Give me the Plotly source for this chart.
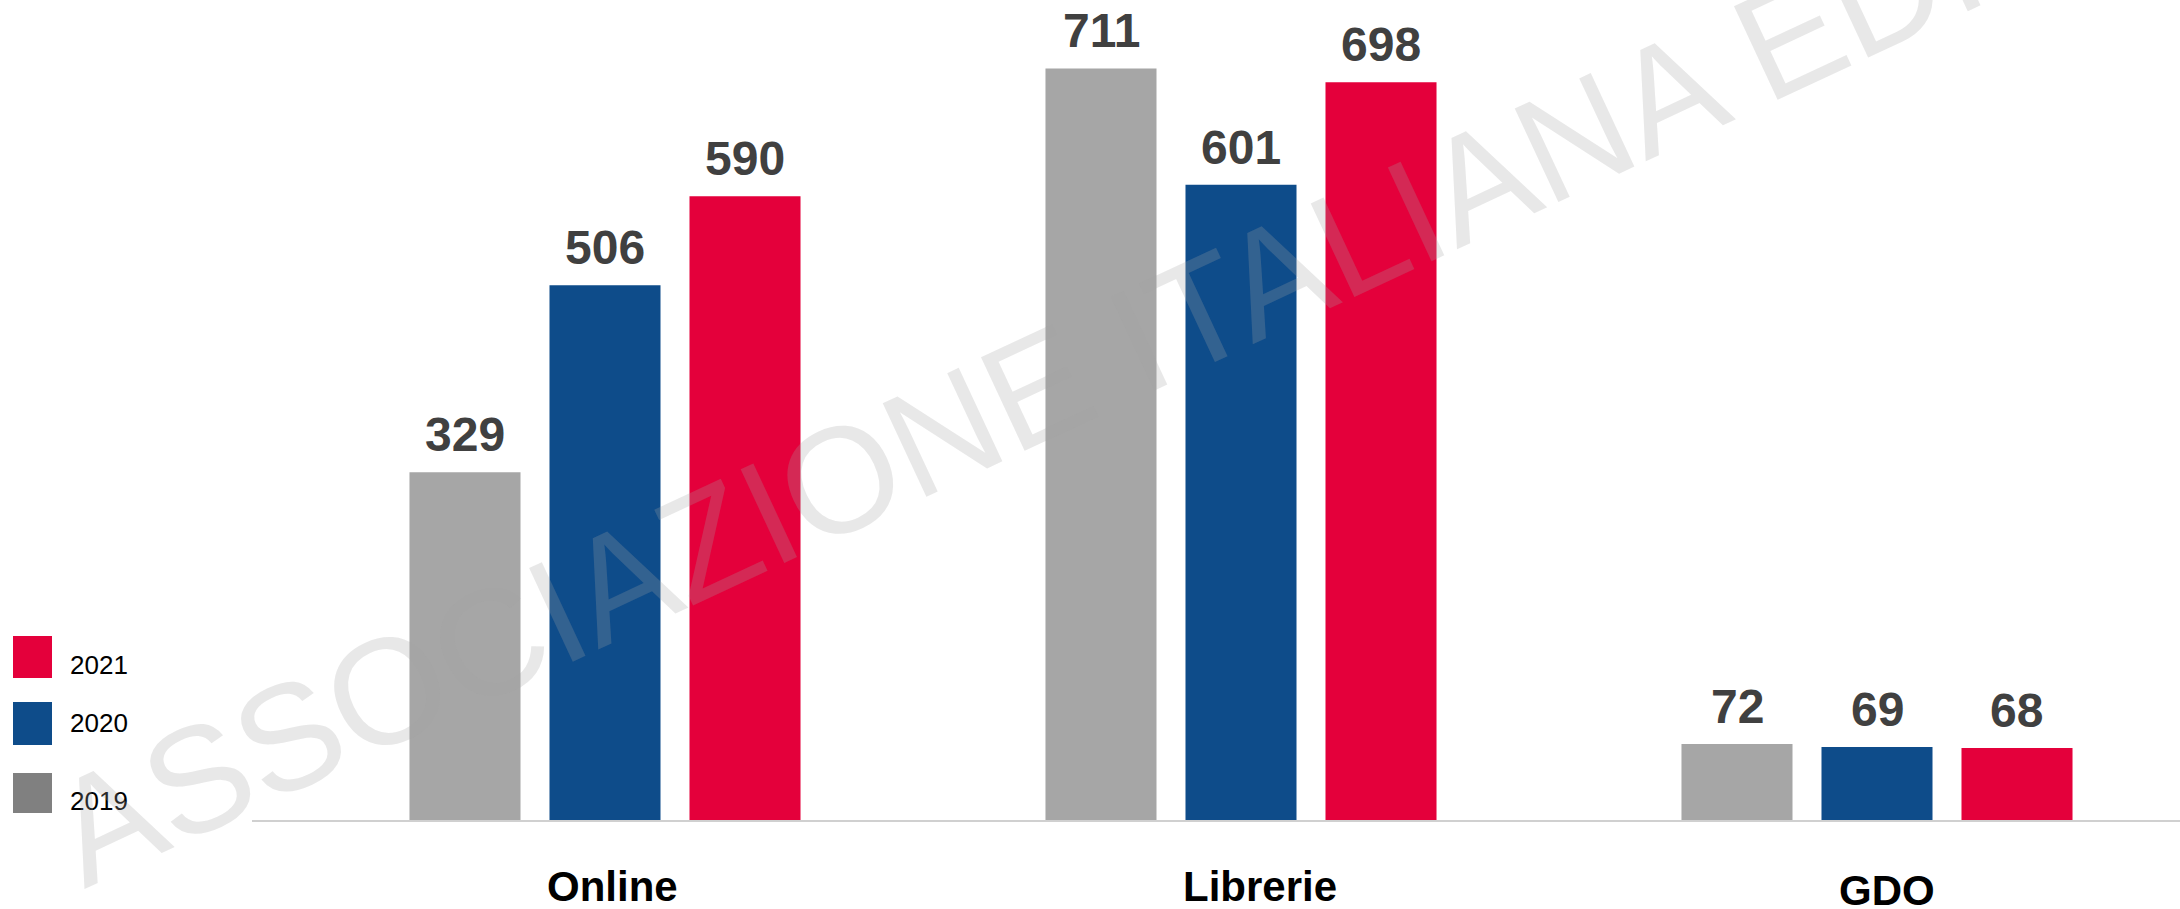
import plotly.graph_objects as go

# ---- data ----
categories = ["Online", "Librerie", "GDO"]
years = ["2019", "2020", "2021"]
values_2019 = [329, 711, 72]
values_2020 = [506, 601, 69]
values_2021 = [590, 698, 68]
legend_labels = ["2021", "2020", "2019"]
watermark_text = "ASSOCIAZIONE ITALIANA EDITORI"

# ---- style ----
W, H = 2180, 909
ML, MB = 252, 89
PW, PH = W - ML, H - MB
FONT = "Liberation Sans, Arial, sans-serif"
bar_colors = {"2019": "#a6a6a6", "2020": "#0e4c8a", "2021": "#e4003b"}
legend_colors = {"2019": "#808080", "2020": "#0e4c8a", "2021": "#e4003b"}
series = {"2019": values_2019, "2020": values_2020, "2021": values_2021}
group_offset = {"2019": -0.2201, "2020": 0.0, "2021": 0.2201}
cat_label_shift = [7, 19, 10]
cat_label_yshift = [0, 0, -4]


def px_x(p):
    return (p - ML) / PW


def px_y(p):
    return (PH - p) / PH


fig = go.Figure()
x_pos = list(range(len(categories)))
for y in years:
    fig.add_trace(go.Bar(
        x=x_pos, y=series[y], name=y,
        marker=dict(color=bar_colors[y], line=dict(width=0)),
        showlegend=False, hoverinfo="skip",
    ))

annotations = []
# value labels
for y in years:
    for i, v in enumerate(series[y]):
        annotations.append(dict(
            x=i + group_offset[y], y=v, xref="x", yref="y",
            text=f"<b>{v}</b>", showarrow=False,
            xanchor="center", yanchor="bottom", yshift=9,
            font=dict(family=FONT, size=48, color="#404040"),
        ))
# category labels
for i, c in enumerate(categories):
    annotations.append(dict(
        x=i, y=px_y(886), xref="x", yref="paper",
        text=f"<b>{c}</b>", showarrow=False,
        xanchor="center", yanchor="middle",
        xshift=cat_label_shift[i], yshift=cat_label_yshift[i],
        font=dict(family=FONT, size=42, color="#000000"),
    ))

# legend (manual)
legend_sq = {"2021": (636, 678), "2020": (702, 745), "2019": (773, 813)}
legend_txt_y = {"2021": 665, "2020": 723, "2019": 801}
shapes = []
for lab in legend_labels:
    y0, y1 = legend_sq[lab]
    shapes.append(dict(
        type="rect", xref="paper", yref="paper",
        x0=px_x(13), x1=px_x(52), y0=px_y(y1), y1=px_y(y0),
        fillcolor=legend_colors[lab], line=dict(width=0), layer="above",
    ))
    annotations.append(dict(
        x=px_x(68), y=px_y(legend_txt_y[lab]), xref="paper", yref="paper",
        text=lab, showarrow=False, xanchor="left", yanchor="middle",
        font=dict(family=FONT, size=26, color="#000000"),
    ))

# watermark
annotations.append(dict(
    x=px_x(1178), y=px_y(322), xref="paper", yref="paper",
    text=watermark_text, showarrow=False, textangle=-25,
    xanchor="center", yanchor="middle",
    font=dict(family=FONT, size=150, color="rgba(165,165,165,0.25)"),
))

px_per_unit = 636.0
x_left = (ML - 605) / px_per_unit
x_right = (W - 605) / px_per_unit
y_top = PH / 1.057

fig.update_layout(
    width=W, height=H,
    margin=dict(l=ML, r=0, t=0, b=MB, pad=0),
    paper_bgcolor="white", plot_bgcolor="white",
    barmode="group", bargap=0.3396, bargroupgap=0.207,
    xaxis=dict(range=[x_left, x_right], showticklabels=False, showgrid=False,
               zeroline=False, showline=True, linecolor="#d0d0d0", linewidth=2,
               ticks="", fixedrange=True),
    yaxis=dict(range=[0, y_top], visible=False, showgrid=False, zeroline=False,
               fixedrange=True),
    annotations=annotations,
    shapes=shapes,
    showlegend=False,
)

fig.write_html("out.html", config={"displayModeBar": False},
               post_script="document.body.style.margin='0';")
